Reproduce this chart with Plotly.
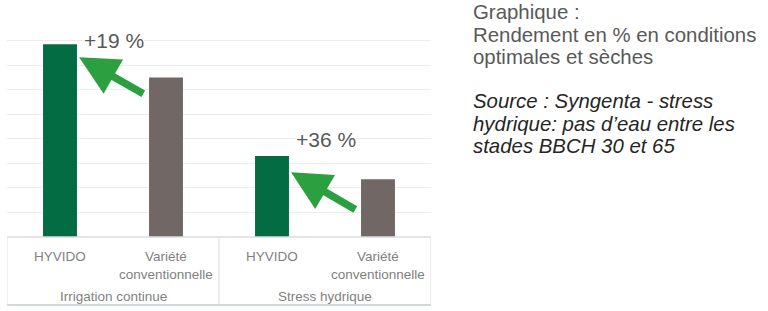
import plotly.graph_objects as go

# ---- data ----
groups = ["Irrigation continue", "Stress hydrique"]
varieties = ["HYVIDO", "Variété<br>conventionnelle"]
values = [7.85, 6.5, 3.3, 2.35]          # rendement (unités relatives)
bar_colors = ["#036c42", "#716764", "#036c42", "#716764"]
gains = ["+19 %", "+36 %"]

W, H = 768, 311
L, R, T, B = 7, 337, 16, 74
plot_h = H - T - B
plot_w = W - L - R

x_idx = list(range(len(values)))

fig = go.Figure()
fig.add_trace(go.Bar(
    x=x_idx, y=values, marker=dict(color=bar_colors, line=dict(width=0)),
    width=0.32, hoverinfo="skip", showlegend=False,
))

ymax = 9
fig.update_yaxes(range=[0, ymax], showgrid=True, gridcolor="#ececec", gridwidth=1,
                 dtick=1, showticklabels=False, zeroline=False, showline=False,
                 fixedrange=True)
fig.update_xaxes(range=[-0.5, 3.5], showticklabels=False, showgrid=False,
                 zeroline=False, showline=False, fixedrange=True)

def ypx_to_paper(ypix):
    return (H - B - ypix) / plot_h

def xpx_to_paper(xpix):
    return (xpix - L) / plot_w

# category axis box
line_grey = "#dcdcdc"
fig.add_shape(type="line", xref="x", yref="paper", x0=-0.5, x1=3.5, y0=0, y1=0,
              line=dict(color=line_grey, width=1.5))
bottom_y = ypx_to_paper(305)
for xv in [-0.5, 1.5, 3.5]:
    fig.add_shape(type="line", xref="x", yref="paper", x0=xv, x1=xv, y0=0, y1=bottom_y,
                  line=dict(color="#e3e3e3", width=1.2))
fig.add_shape(type="line", xref="x", yref="paper", x0=-0.5, x1=3.5, y0=bottom_y, y1=bottom_y,
              line=dict(color="#cfd7e0", width=2.2))

label_font = dict(family="Liberation Sans, Arial", size=13.5, color="#7f7f7f")
for i in x_idx:
    fig.add_annotation(x=i, y=ypx_to_paper(246.5), xref="x", yref="paper",
                       text=varieties[i % 2], showarrow=False, yanchor="top",
                       font=label_font, align="center")
for g, name in enumerate(groups):
    fig.add_annotation(x=2 * g + 0.5, y=ypx_to_paper(296), xref="x", yref="paper",
                       text=name, showarrow=False, yanchor="middle", font=label_font)

# gain labels with arrows
arrow_green = "#2ca040"
gain_font = dict(family="Liberation Sans, Arial", size=21, color="#595959")
for g in range(2):
    hy = values[2 * g]
    conv = values[2 * g + 1]
    fig.add_annotation(x=2 * g + 0.18, y=hy - 0.53 if g == 0 else hy - 0.66,
                       ax=2 * g + 0.8, ay=conv - 0.7 if g == 0 else conv - 1.27,
                       xref="x", yref="y", axref="x", ayref="y", text="",
                       showarrow=True, arrowhead=2, arrowsize=1.05, arrowwidth=7.5,
                       arrowcolor=arrow_green, standoff=0, startstandoff=0)
fig.add_annotation(x=0.22, y=ypx_to_paper(40) * ymax, xref="x", yref="y", text=gains[0],
                   showarrow=False, xanchor="left", yanchor="middle", font=gain_font,
                   bgcolor="white", borderpad=0)
fig.add_annotation(x=2.22, y=ypx_to_paper(139) * ymax, xref="x", yref="y", text=gains[1],
                   showarrow=False, xanchor="left", yanchor="middle", font=gain_font,
                   bgcolor="white", borderpad=0)

# right-hand caption
cap_lines = [
    ("Graphique :", "#595959", False, 12),
    ("Rendement en % en conditions", "#595959", False, 35),
    ("optimales et sèches", "#595959", False, 57),
    ("Source : Syngenta - stress", "#262626", True, 101),
    ("hydrique: pas d’eau entre les", "#262626", True, 124),
    ("stades BBCH 30 et 65", "#262626", True, 146),
]
for txt, col, ital, ypix in cap_lines:
    fig.add_annotation(x=xpx_to_paper(471), y=ypx_to_paper(ypix), xref="paper", yref="paper",
                       text=f"<i>{txt}</i>" if ital else txt, showarrow=False,
                       xanchor="left", yanchor="middle", align="left",
                       font=dict(family="Liberation Sans, Arial", size=20.4, color=col))

fig.update_layout(
    width=W, height=H, margin=dict(l=L, r=R, t=T, b=B),
    paper_bgcolor="white", plot_bgcolor="white", bargap=0.68,
)

fig.write_html("out.html", config={"displayModeBar": False})
